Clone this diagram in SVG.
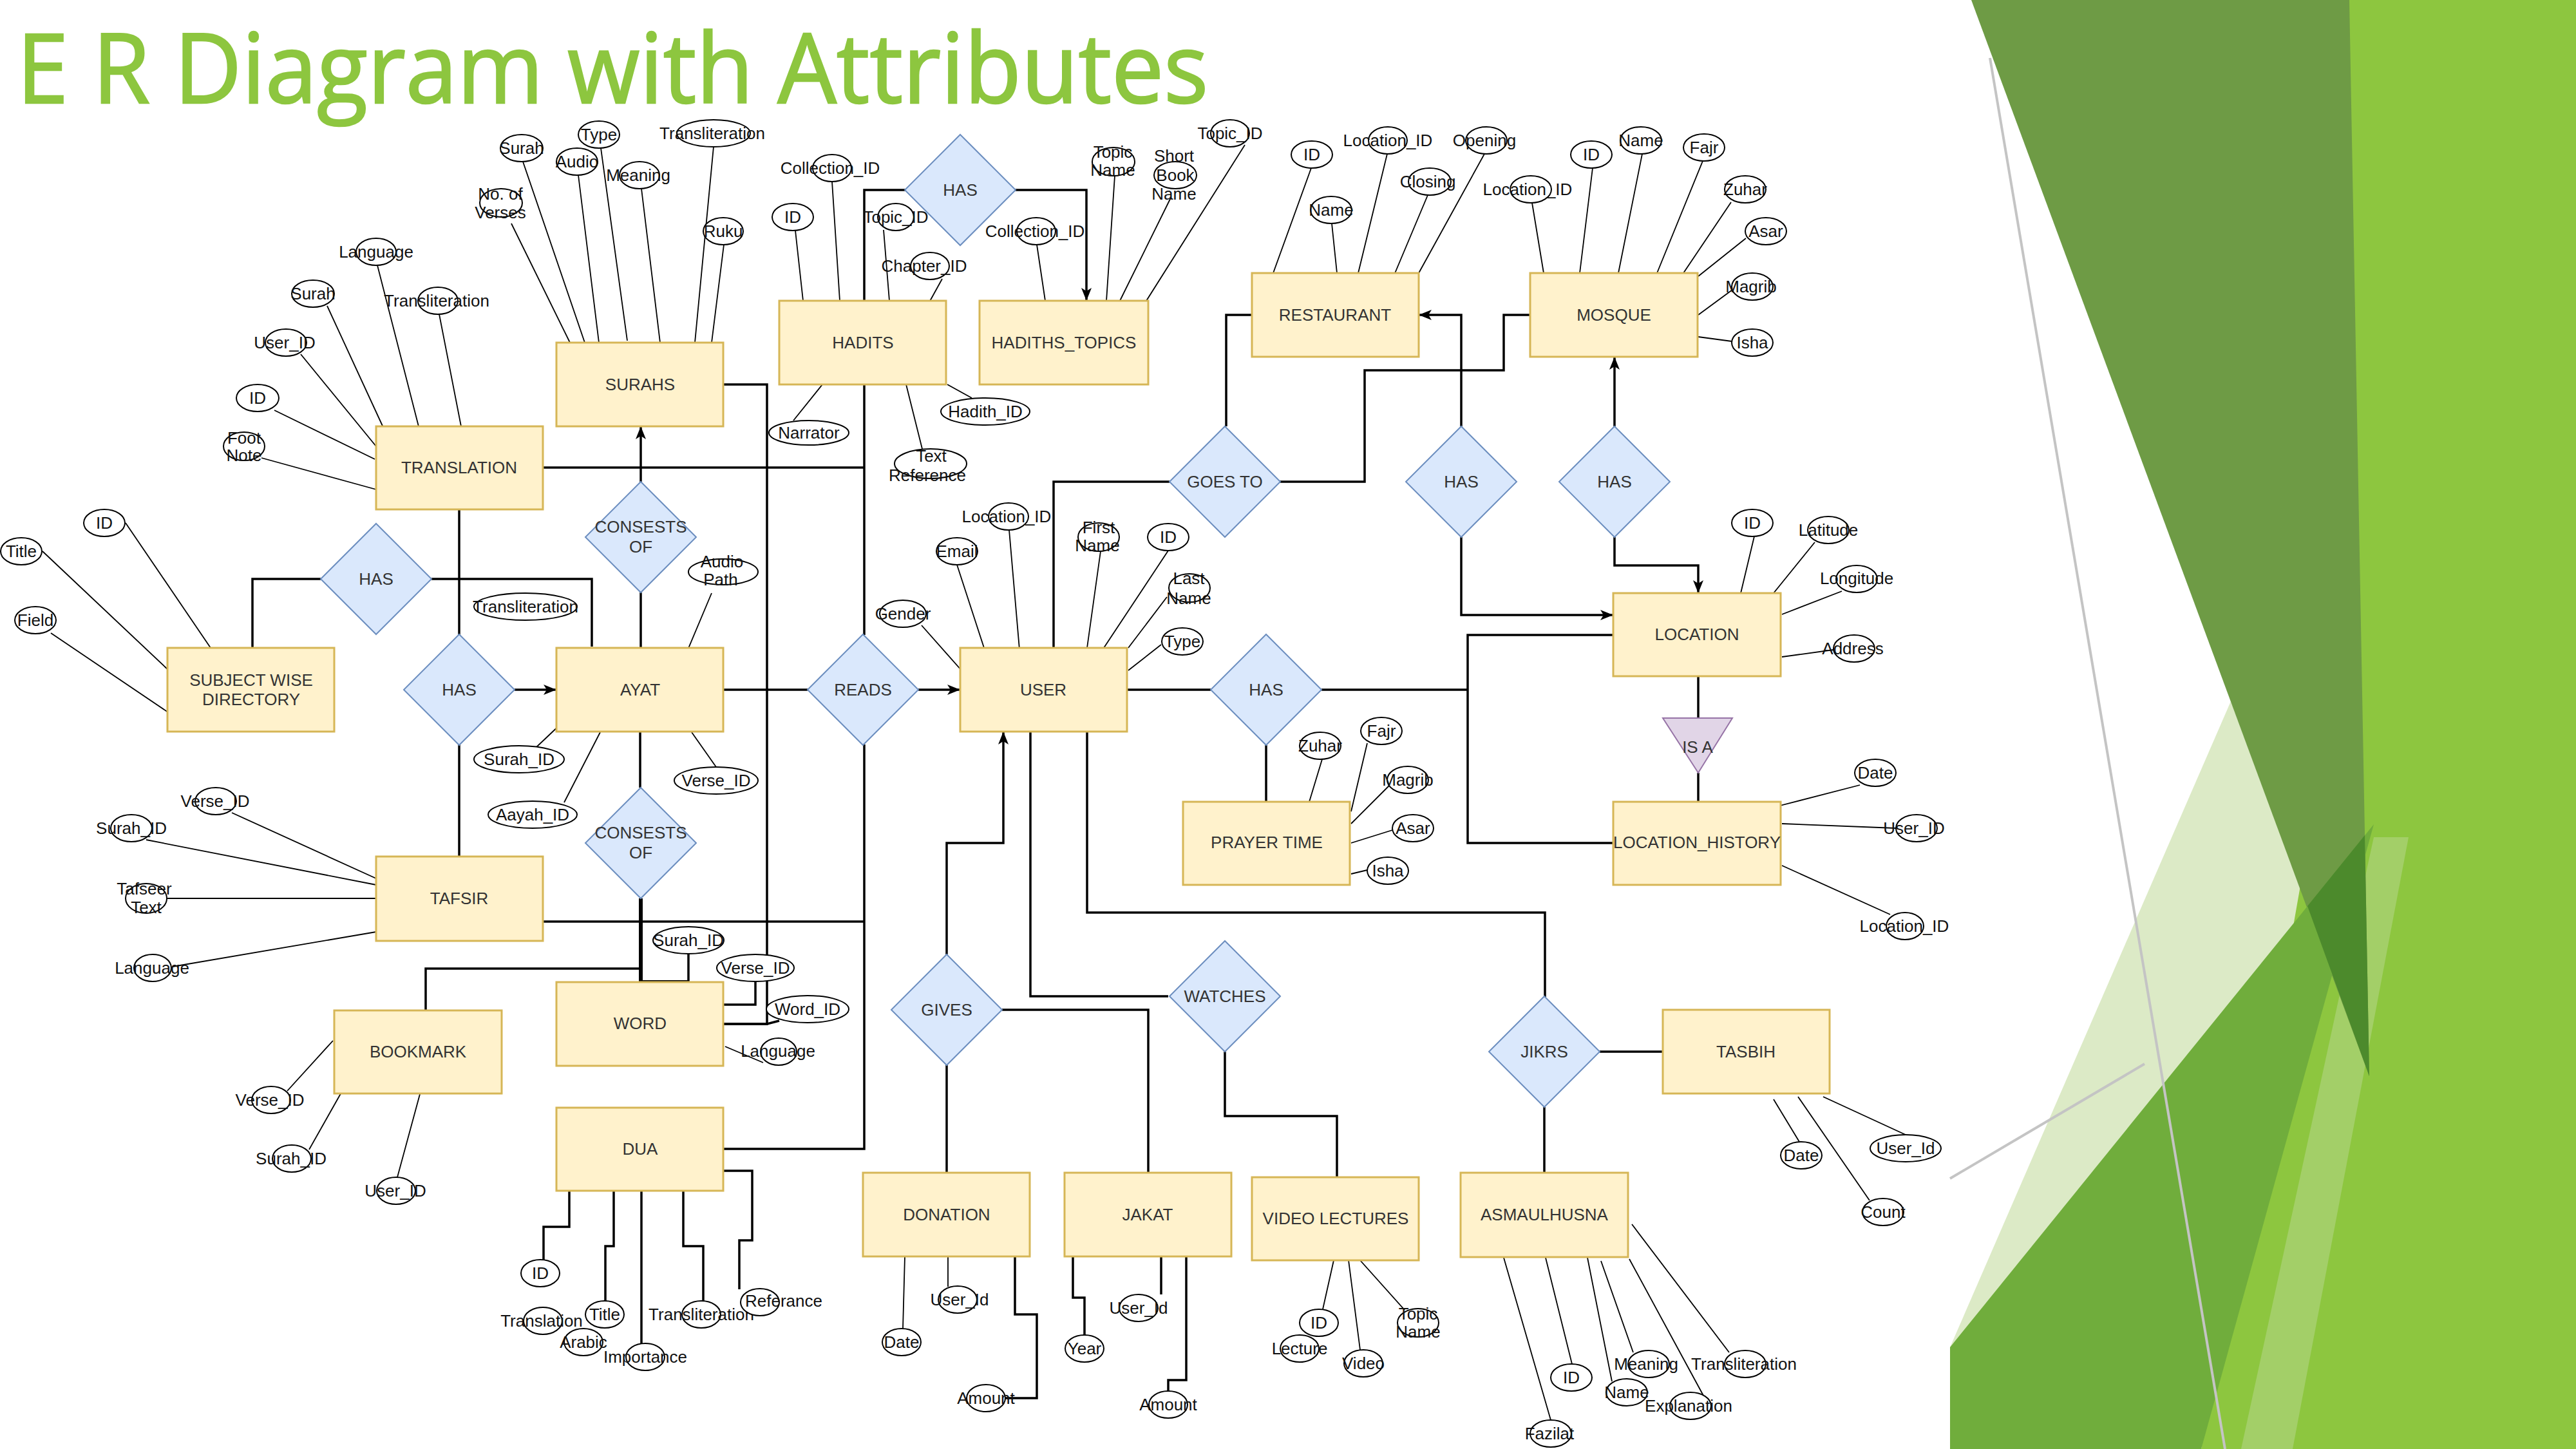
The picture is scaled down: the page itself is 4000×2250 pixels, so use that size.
<svg xmlns="http://www.w3.org/2000/svg" width="4000" height="2250" viewBox="0 0 4000 2250">
<defs>
<style>
.ent{fill:#FFF2CC;stroke:#D6B656;stroke-width:3}
.rel{fill:#DAE8FC;stroke:#6C8EBF;stroke-width:2}
.isa{fill:#E1D5E7;stroke:#9673A6;stroke-width:2}
.att{fill:#FFFFFF;stroke:#000;stroke-width:2}
text{font-family:"Liberation Sans",Arial,sans-serif;font-size:26px;text-anchor:middle;dominant-baseline:central}
.el{fill:#333}
.at{fill:#111}
.c{fill:none;stroke:#000;stroke-width:3.5}
.cb{fill:none;stroke:#000;stroke-width:6}
.ca{fill:none;stroke:#000;stroke-width:3.5;marker-end:url(#arr)}
.l{fill:none;stroke:#000;stroke-width:1.8}
.deco-line{stroke:#C4C4C4;stroke-width:4;fill:none}
</style>
<marker id="arr" markerUnits="userSpaceOnUse" markerWidth="22" markerHeight="18" refX="20" refY="9" orient="auto"><path d="M0,1 L20,9 L0,17 L5,9 Z" fill="#000"/></marker>
<path id="dia" d="M0,-86 L86,0 L0,86 L-86,0 Z"/>
</defs>
<rect width="4000" height="2250" fill="#FFFFFF"/>

<!-- slide decoration on the right edge -->
<g id="decoration">
<polygon points="3028,2092 3464,1089 3686,1684" fill="#DCEAC6"/>
<polygon points="3635,0 4000,0 4000,2250 3418,2250 3580,1330 3640,1100" fill="#8DC63F"/>
<polygon points="3686,1300 3740,1300 3560,2250 3480,2250" fill="#A3CF68"/>
<polygon points="3061,0 3648,0 3679,1671" fill="#6E9B45"/>
<polygon points="3028,2092 3686,1280 3418,2250 3028,2250" fill="#70AD3C"/>
<polygon points="3583,1407 3672,1297 3679,1671" fill="#4C8A2C"/>
<line class="deco-line" x1="3090" y1="90" x2="3455" y2="2250"/>
<line class="deco-line" x1="3028" y1="1830" x2="3330" y2="1652"/>
</g>

<text x="26" y="160" style="font-family:'Open Sans','DejaVu Sans',sans-serif;font-size:150px;text-anchor:start;dominant-baseline:alphabetic;stroke:#8DC63F;stroke-width:2.5" fill="#8DC63F" textLength="1850" lengthAdjust="spacingAndGlyphs">E R Diagram with Attributes</text>

<!-- relationship lines -->
<g id="connectors">
<path class="c" d="M1407,295 H1342 V467"/>
<path class="ca" d="M1576,295 H1687 V467"/>
<path class="c" d="M843,726 H1342"/>
<path class="c" d="M1342,597 V986"/>
<path class="c" d="M1123,597 H1191 V1590 H1123"/>
<path class="ca" d="M995,749 V662"/>
<path class="c" d="M995,920 V1006"/>
<path class="c" d="M713,791 V986"/>
<path class="c" d="M713,1156 V1330"/>
<path class="c" d="M392,1006 V899 H498"/>
<path class="c" d="M670,899 H919 V1004"/>
<path class="ca" d="M799,1071 H864"/>
<path class="c" d="M994,1136 V1223"/>
<path class="cb" d="M995,1395 V1525 H1069"/>
<path class="c" d="M661,1569 V1504 H995"/>
<path class="c" d="M843,1431 H1342"/>
<path class="c" d="M1342,1156 V1784 H1123"/>
<path class="c" d="M1123,1071 H1254"/>
<path class="ca" d="M1426,1071 H1491"/>
<path class="c" d="M1636,1006 V748 H1816"/>
<path class="c" d="M1987,748 H2119 V575 H2335 V489 H2376"/>
<path class="c" d="M1944,489 H1904 V662"/>
<path class="ca" d="M2269,662 V489 H2203"/>
<path class="ca" d="M2269,834 V955 H2505"/>
<path class="ca" d="M2507,662 V554"/>
<path class="ca" d="M2507,834 V878 H2637 V921"/>
<path class="c" d="M1750,1071 H1880"/>
<path class="c" d="M2052,1071 H2279"/>
<path class="c" d="M2505,986 H2279 V1309 H2505"/>
<path class="c" d="M1966,1157 V1245"/>
<path class="c" d="M2637,1050 V1115"/>
<path class="c" d="M2637,1200 V1245"/>
<path class="ca" d="M1470,1482 V1309 H1558 V1136"/>
<path class="c" d="M1600,1136 V1547 H1814"/>
<path class="c" d="M1688,1136 V1417 H2399 V1548"/>
<path class="c" d="M1470,1654 V1821"/>
<path class="c" d="M1556,1568 H1783 V1821"/>
<path class="c" d="M1902,1633 V1733 H2076 V1828"/>
<path class="c" d="M2484,1633 H2582"/>
<path class="c" d="M2398,1719 V1821"/>
<g id="attribute-links">
<path class="l" d="M586,412 L650,662 M508,475 L598,670 M682,488 L716,662 M467,550 L584,693 M426,637 L582,713 M406,711 L584,760"/>
<path class="l" d="M812,251 L908,532 M933,230 L974,529 M898,272 L930,532 M996,293 L1025,532 M1108,228 L1079,532 M1124,380 L1105,532 M794,347 L885,532"/>
<path class="l" d="M1292,282 L1304,467 M1235,358 L1247,467 M1372,357 L1381,467 M1463,433 L1442,471 M1232,653 L1277,597 M1432,697 L1407,597 M1509,618 L1471,597"/>
<path class="l" d="M1610,380 L1623,467 M1731,273 L1718,467 M1818,307 L1739,467 M1933,225 L1775,475"/>
<path class="l" d="M2036,261 L1977,424 M2068,347 L2076,424 M2154,239 L2109,424 M2217,303 L2164,429 M2305,239 L2203,424"/>
<path class="l" d="M2379,315 L2397,424 M2473,261 L2453,424 M2550,239 L2513,424 M2644,250 L2573,424 M2688,314 L2614,424 M2711,370 L2637,429 M2690,450 L2637,489 M2689,530 L2637,523"/>
<path class="l" d="M195,812 L327,1006 M66,856 L261,1040 M79,983 L261,1106"/>
<path class="l" d="M1105,921 L1060,1028 M833,1160 L871,1124 M876,1246 L932,1137 M1112,1191 L1074,1137"/>
<path class="l" d="M1431,971 L1493,1041 M1567,823 L1584,1020 M1486,877 L1528,1006 M1709,856 L1688,1006 M1814,855 L1714,1006 M1812,927 L1752,1006 M1803,1001 L1752,1041"/>
<path class="l" d="M2053,1179 L2033,1245 M2123,1154 L2098,1260 M2158,1219 L2098,1279 M2162,1289 L2098,1309 M2123,1351 L2098,1357"/>
<path class="l" d="M2724,833 L2703,921 M2818,842 L2754,921 M2860,918 L2767,954 M2847,1009 L2767,1020"/>
<path class="l" d="M2888,1219 L2760,1252 M2944,1286 L2767,1279 M2935,1420 L2767,1344"/>
<path class="l" d="M360,1262 L584,1364 M227,1304 L584,1374 M260,1395 L584,1395 M268,1501 L584,1447"/>
<path class="l" d="M446,1694 L517,1616 M480,1785 L541,1677 M617,1828 L652,1699"/>
<path class="c" d="M1069,1481 V1525 M1173,1524 V1560 H1123 M1123,1590 H1191 L1210,1585"/>
<path class="l" d="M1126,1625 L1185,1650"/>
<path class="c" d="M884,1849 V1905 H844 V1956 M953,1849 V1935 H940 V2020 M996,1849 V2086 M1061,1849 V1935 H1092 V2020 M1123,1818 H1168 V1926 H1148 V2002"/>
<path class="l" d="M1405,1951 L1402,2063 M1472,1951 L1472,1998"/>
<path class="c" d="M1576,1951 V2041 H1610 V2171 H1561"/>
<path class="c" d="M1666,1951 V2015 H1684 V2073 M1803,1951 V2010 M1842,1951 V2143 H1814 V2160"/>
<path class="l" d="M2071,1957 L2054,2033 M2094,1957 L2112,2096 M2112,1957 L2181,2034"/>
<path class="l" d="M2794,1773 L2754,1707 M2959,1762 L2831,1703 M2903,1864 L2792,1703"/>
<path class="l" d="M2408,2205 L2335,1953 M2441,2118 L2400,1953 M2503,2145 L2465,1953 M2536,2100 L2486,1958 M2645,2167 L2530,1955 M2685,2100 L2534,1901"/>
</g>
</g>

<!-- entities -->
<g id="translation"><rect class="ent" x="584" y="662" width="259" height="129"/><text class="el" x="713" y="726">TRANSLATION</text></g>
<g id="surahs"><rect class="ent" x="864" y="532" width="259" height="130"/><text class="el" x="994" y="597">SURAHS</text></g>
<g id="hadits"><rect class="ent" x="1210" y="467" width="259" height="130"/><text class="el" x="1340" y="532">HADITS</text></g>
<g id="hadiths-topics"><rect class="ent" x="1521" y="467" width="262" height="130"/><text class="el" x="1652" y="532">HADITHS_TOPICS</text></g>
<g id="restaurant"><rect class="ent" x="1944" y="424" width="259" height="130"/><text class="el" x="2073" y="489">RESTAURANT</text></g>
<g id="mosque"><rect class="ent" x="2376" y="424" width="260" height="130"/><text class="el" x="2506" y="489">MOSQUE</text></g>
<g id="subject-wise-directory"><rect class="ent" x="260" y="1006" width="259" height="130"/><text class="el" x="390" y="1056">SUBJECT WISE</text><text class="el" x="390" y="1086">DIRECTORY</text></g>
<g id="ayat"><rect class="ent" x="864" y="1006" width="259" height="130"/><text class="el" x="994" y="1071">AYAT</text></g>
<g id="user"><rect class="ent" x="1491" y="1006" width="259" height="130"/><text class="el" x="1620" y="1071">USER</text></g>
<g id="location"><rect class="ent" x="2505" y="921" width="260" height="129"/><text class="el" x="2635" y="985">LOCATION</text></g>
<g id="prayer-time"><rect class="ent" x="1837" y="1245" width="259" height="129"/><text class="el" x="1967" y="1308">PRAYER TIME</text></g>
<g id="location-history"><rect class="ent" x="2505" y="1245" width="260" height="129"/><text class="el" x="2635" y="1308">LOCATION_HISTORY</text></g>
<g id="tafsir"><rect class="ent" x="584" y="1330" width="259" height="131"/><text class="el" x="713" y="1395">TAFSIR</text></g>
<g id="bookmark"><rect class="ent" x="519" y="1569" width="260" height="129"/><text class="el" x="649" y="1633">BOOKMARK</text></g>
<g id="word"><rect class="ent" x="864" y="1525" width="259" height="130"/><text class="el" x="994" y="1589">WORD</text></g>
<g id="tasbih"><rect class="ent" x="2582" y="1568" width="259" height="130"/><text class="el" x="2711" y="1633">TASBIH</text></g>
<g id="dua"><rect class="ent" x="864" y="1720" width="259" height="129"/><text class="el" x="994" y="1784">DUA</text></g>
<g id="donation"><rect class="ent" x="1340" y="1821" width="259" height="130"/><text class="el" x="1470" y="1886">DONATION</text></g>
<g id="jakat"><rect class="ent" x="1653" y="1821" width="259" height="130"/><text class="el" x="1782" y="1886">JAKAT</text></g>
<g id="asmaulhusna"><rect class="ent" x="2268" y="1821" width="260" height="131"/><text class="el" x="2398" y="1886">ASMAULHUSNA</text></g>
<g id="video-lectures"><rect class="ent" x="1944" y="1828" width="259" height="129"/><text class="el" x="2074" y="1892">VIDEO LECTURES</text></g>

<!-- relationships -->
<g id="has-topics"><use href="#dia" class="rel" x="1491" y="295"/><text class="el" x="1491" y="295">HAS</text></g>
<g id="consists-surah"><use href="#dia" class="rel" x="995" y="834"/><text class="el" x="995" y="818">CONSESTS</text><text class="el" x="995" y="849">OF</text></g>
<g id="has-subject"><use href="#dia" class="rel" x="584" y="899"/><text class="el" x="584" y="899">HAS</text></g>
<g id="has-ayat"><use href="#dia" class="rel" x="713" y="1071"/><text class="el" x="713" y="1071">HAS</text></g>
<g id="reads"><use href="#dia" class="rel" x="1340" y="1071"/><text class="el" x="1340" y="1071">READS</text></g>
<g id="consists-word"><use href="#dia" class="rel" x="995" y="1309"/><text class="el" x="995" y="1293">CONSESTS</text><text class="el" x="995" y="1324">OF</text></g>
<g id="goes-to"><use href="#dia" class="rel" x="1902" y="748"/><text class="el" x="1902" y="748">GOES TO</text></g>
<g id="has-restaurant"><use href="#dia" class="rel" x="2269" y="748"/><text class="el" x="2269" y="748">HAS</text></g>
<g id="has-mosque"><use href="#dia" class="rel" x="2507" y="748"/><text class="el" x="2507" y="748">HAS</text></g>
<g id="has-prayer"><use href="#dia" class="rel" x="1966" y="1071"/><text class="el" x="1966" y="1071">HAS</text></g>
<g id="gives"><use href="#dia" class="rel" x="1470" y="1568"/><text class="el" x="1470" y="1568">GIVES</text></g>
<g id="watches"><use href="#dia" class="rel" x="1902" y="1547"/><text class="el" x="1902" y="1547">WATCHES</text></g>
<g id="jikrs"><use href="#dia" class="rel" x="2398" y="1633"/><text class="el" x="2398" y="1633">JIKRS</text></g>
<g id="is-a"><polygon class="isa" points="2582,1115 2690,1115 2637,1200"/><text class="el" x="2636" y="1160">IS A</text></g>

<!-- attributes -->
<g id="attributes">
<g id="tr-language"><ellipse class="att" cx="584" cy="391" rx="31" ry="21"/><text class="at" x="584" y="391">Language</text></g>
<g id="tr-surah"><ellipse class="att" cx="486" cy="456" rx="33" ry="21"/><text class="at" x="486" y="456">Surah</text></g>
<g id="tr-transliteration"><ellipse class="att" cx="680" cy="467" rx="31" ry="21"/><text class="at" x="678" y="467">Transliteration</text></g>
<g id="tr-user-id"><ellipse class="att" cx="444" cy="532" rx="32" ry="21"/><text class="at" x="442" y="532">User_ID</text></g>
<g id="tr-id"><ellipse class="att" cx="400" cy="618" rx="33" ry="21"/><text class="at" x="400" y="618">ID</text></g>
<g id="tr-foot-note"><ellipse class="att" cx="379" cy="693" rx="32" ry="22"/><text class="at" x="379" y="680">Foot</text><text class="at" x="379" y="707">Note</text></g>

<g id="su-surah"><ellipse class="att" cx="810" cy="230" rx="33" ry="21"/><text class="at" x="810" y="230">Surah</text></g>
<g id="su-type"><ellipse class="att" cx="930" cy="209" rx="32" ry="21"/><text class="at" x="930" y="209">Type</text></g>
<g id="su-audio"><ellipse class="att" cx="896" cy="251" rx="32" ry="21"/><text class="at" x="896" y="251">Audio</text></g>
<g id="su-meaning"><ellipse class="att" cx="993" cy="272" rx="31" ry="21"/><text class="at" x="991" y="272">Meaning</text></g>
<g id="su-transliteration"><ellipse class="att" cx="1108" cy="207" rx="57" ry="21"/><text class="at" x="1106" y="207">Transliteration</text></g>
<g id="su-ruku"><ellipse class="att" cx="1123" cy="359" rx="31" ry="21"/><text class="at" x="1123" y="359">Ruku</text></g>
<g id="su-verses"><ellipse class="att" cx="778" cy="315" rx="33" ry="22"/><text class="at" x="777" y="301">No. of</text><text class="at" x="777" y="330">Verses</text></g>

<g id="ha-collection"><ellipse class="att" cx="1292" cy="261" rx="30" ry="21"/><text class="at" x="1289" y="261">Collection_ID</text></g>
<g id="ha-id"><ellipse class="att" cx="1231" cy="337" rx="32" ry="21"/><text class="at" x="1231" y="337">ID</text></g>
<g id="ha-topic"><ellipse class="att" cx="1391" cy="337" rx="28" ry="21"/><text class="at" x="1391" y="337">Topic_ID</text></g>
<g id="ha-chapter"><ellipse class="att" cx="1444" cy="413" rx="30" ry="21"/><text class="at" x="1435" y="413">Chapter_ID</text></g>
<g id="ha-narrator"><ellipse class="att" cx="1256" cy="672" rx="62" ry="19"/><text class="at" x="1256" y="672">Narrator</text></g>
<g id="ha-text-ref"><ellipse class="att" cx="1445" cy="720" rx="56" ry="23"/><text class="at" x="1446" y="708">Text</text><text class="at" x="1440" y="738">Reference</text></g>
<g id="ha-hadith-id"><ellipse class="att" cx="1530" cy="639" rx="69" ry="21"/><text class="at" x="1530" y="639">Hadith_ID</text></g>

<g id="ht-collection"><ellipse class="att" cx="1609" cy="359" rx="30" ry="21"/><text class="at" x="1607" y="359">Collection_ID</text></g>
<g id="ht-topic-name"><ellipse class="att" cx="1729" cy="251" rx="33" ry="22"/><text class="at" x="1728" y="236">Topic</text><text class="at" x="1728" y="264">Name</text></g>
<g id="ht-short-name"><ellipse class="att" cx="1825" cy="272" rx="33" ry="21"/><text class="at" x="1823" y="242">Short</text><text class="at" x="1825" y="272">Book</text><text class="at" x="1823" y="301">Name</text></g>
<g id="ht-topic-id"><ellipse class="att" cx="1910" cy="207" rx="30" ry="21"/><text class="at" x="1910" y="207">Topic_ID</text></g>

<g id="re-id"><ellipse class="att" cx="2037" cy="240" rx="32" ry="21"/><text class="at" x="2037" y="240">ID</text></g>
<g id="re-name"><ellipse class="att" cx="2067" cy="326" rx="32" ry="21"/><text class="at" x="2067" y="326">Name</text></g>
<g id="re-location"><ellipse class="att" cx="2155" cy="218" rx="30" ry="21"/><text class="at" x="2155" y="218">Location_ID</text></g>
<g id="re-closing"><ellipse class="att" cx="2220" cy="282" rx="33" ry="21"/><text class="at" x="2217" y="282">Closing</text></g>
<g id="re-opening"><ellipse class="att" cx="2308" cy="218" rx="32" ry="21"/><text class="at" x="2305" y="218">Opening</text></g>

<g id="mo-location"><ellipse class="att" cx="2377" cy="294" rx="32" ry="21"/><text class="at" x="2372" y="294">Location_ID</text></g>
<g id="mo-id"><ellipse class="att" cx="2471" cy="240" rx="32" ry="21"/><text class="at" x="2471" y="240">ID</text></g>
<g id="mo-name"><ellipse class="att" cx="2548" cy="218" rx="32" ry="21"/><text class="at" x="2548" y="218">Name</text></g>
<g id="mo-fajr"><ellipse class="att" cx="2646" cy="229" rx="32" ry="21"/><text class="at" x="2646" y="229">Fajr</text></g>
<g id="mo-zuhar"><ellipse class="att" cx="2710" cy="294" rx="32" ry="21"/><text class="at" x="2710" y="294">Zuhar</text></g>
<g id="mo-asar"><ellipse class="att" cx="2742" cy="359" rx="32" ry="21"/><text class="at" x="2742" y="359">Asar</text></g>
<g id="mo-magrib"><ellipse class="att" cx="2721" cy="445" rx="32" ry="21"/><text class="at" x="2719" y="445">Magrib</text></g>
<g id="mo-isha"><ellipse class="att" cx="2721" cy="532" rx="32" ry="21"/><text class="at" x="2721" y="532">Isha</text></g>

<g id="sd-id"><ellipse class="att" cx="162" cy="812" rx="32" ry="21"/><text class="at" x="162" y="812">ID</text></g>
<g id="sd-title"><ellipse class="att" cx="33" cy="856" rx="32" ry="21"/><text class="at" x="33" y="856">Title</text></g>
<g id="sd-field"><ellipse class="att" cx="55" cy="963" rx="32" ry="21"/><text class="at" x="55" y="963">Field</text></g>

<g id="ay-transliteration"><ellipse class="att" cx="816" cy="942" rx="80" ry="21"/><text class="at" x="816" y="942">Transliteration</text></g>
<g id="ay-audio-path"><ellipse class="att" cx="1123" cy="888" rx="54" ry="20"/><text class="at" x="1121" y="872">Audio</text><text class="at" x="1119" y="900">Path</text></g>
<g id="ay-surah-id"><ellipse class="att" cx="806" cy="1179" rx="70" ry="21"/><text class="at" x="806" y="1179">Surah_ID</text></g>
<g id="ay-aayah-id"><ellipse class="att" cx="827" cy="1265" rx="69" ry="21"/><text class="at" x="827" y="1265">Aayah_ID</text></g>
<g id="ay-verse-id"><ellipse class="att" cx="1112" cy="1212" rx="65" ry="21"/><text class="at" x="1112" y="1212">Verse_ID</text></g>

<g id="us-gender"><ellipse class="att" cx="1402" cy="953" rx="36" ry="21"/><text class="at" x="1402" y="953">Gender</text></g>
<g id="us-location"><ellipse class="att" cx="1566" cy="802" rx="31" ry="21"/><text class="at" x="1563" y="802">Location_ID</text></g>
<g id="us-email"><ellipse class="att" cx="1486" cy="856" rx="32" ry="21"/><text class="at" x="1486" y="856">Email</text></g>
<g id="us-first-name"><ellipse class="att" cx="1706" cy="834" rx="32" ry="22"/><text class="at" x="1706" y="819">First</text><text class="at" x="1704" y="847">Name</text></g>
<g id="us-id"><ellipse class="att" cx="1814" cy="834" rx="32" ry="21"/><text class="at" x="1814" y="834">ID</text></g>
<g id="us-last-name"><ellipse class="att" cx="1847" cy="913" rx="32" ry="22"/><text class="at" x="1846" y="898">Last</text><text class="at" x="1846" y="929">Name</text></g>
<g id="us-type"><ellipse class="att" cx="1836" cy="996" rx="32" ry="21"/><text class="at" x="1836" y="996">Type</text></g>

<g id="pt-zuhar"><ellipse class="att" cx="2050" cy="1158" rx="32" ry="21"/><text class="at" x="2050" y="1158">Zuhar</text></g>
<g id="pt-fajr"><ellipse class="att" cx="2145" cy="1135" rx="32" ry="21"/><text class="at" x="2145" y="1135">Fajr</text></g>
<g id="pt-magrib"><ellipse class="att" cx="2186" cy="1211" rx="32" ry="21"/><text class="at" x="2186" y="1211">Magrib</text></g>
<g id="pt-asar"><ellipse class="att" cx="2194" cy="1286" rx="32" ry="21"/><text class="at" x="2194" y="1286">Asar</text></g>
<g id="pt-isha"><ellipse class="att" cx="2155" cy="1352" rx="32" ry="21"/><text class="at" x="2155" y="1352">Isha</text></g>

<g id="lo-id"><ellipse class="att" cx="2721" cy="812" rx="32" ry="21"/><text class="at" x="2721" y="812">ID</text></g>
<g id="lo-latitude"><ellipse class="att" cx="2839" cy="823" rx="32" ry="21"/><text class="at" x="2839" y="823">Latitude</text></g>
<g id="lo-longitude"><ellipse class="att" cx="2883" cy="899" rx="32" ry="21"/><text class="at" x="2883" y="898">Longitude</text></g>
<g id="lo-address"><ellipse class="att" cx="2879" cy="1007" rx="32" ry="21"/><text class="at" x="2877" y="1007">Address</text></g>

<g id="lh-date"><ellipse class="att" cx="2912" cy="1200" rx="32" ry="21"/><text class="at" x="2912" y="1200">Date</text></g>
<g id="lh-user-id"><ellipse class="att" cx="2976" cy="1286" rx="32" ry="21"/><text class="at" x="2972" y="1286">User_ID</text></g>
<g id="lh-location-id"><ellipse class="att" cx="2958" cy="1438" rx="29" ry="21"/><text class="at" x="2957" y="1438">Location_ID</text></g>

<g id="ta-verse-id"><ellipse class="att" cx="335" cy="1244" rx="32" ry="21"/><text class="at" x="334" y="1244">Verse_ID</text></g>
<g id="ta-surah-id"><ellipse class="att" cx="204" cy="1286" rx="32" ry="21"/><text class="at" x="204" y="1286">Surah_ID</text></g>
<g id="ta-text"><ellipse class="att" cx="227" cy="1395" rx="32" ry="23"/><text class="at" x="224" y="1380">Tafseer</text><text class="at" x="227" y="1409">Text</text></g>
<g id="ta-language"><ellipse class="att" cx="237" cy="1503" rx="29" ry="21"/><text class="at" x="236" y="1503">Language</text></g>

<g id="bm-verse-id"><ellipse class="att" cx="421" cy="1708" rx="30" ry="21"/><text class="at" x="419" y="1708">Verse_ID</text></g>
<g id="bm-surah-id"><ellipse class="att" cx="453" cy="1799" rx="30" ry="21"/><text class="at" x="452" y="1799">Surah_ID</text></g>
<g id="bm-user-id"><ellipse class="att" cx="615" cy="1849" rx="30" ry="21"/><text class="at" x="614" y="1849">User_ID</text></g>

<g id="wo-surah-id"><ellipse class="att" cx="1069" cy="1460" rx="55" ry="21"/><text class="at" x="1069" y="1460">Surah_ID</text></g>
<g id="wo-verse-id"><ellipse class="att" cx="1173" cy="1503" rx="60" ry="21"/><text class="at" x="1173" y="1503">Verse_ID</text></g>
<g id="wo-word-id"><ellipse class="att" cx="1254" cy="1567" rx="64" ry="21"/><text class="at" x="1254" y="1567">Word_ID</text></g>
<g id="wo-language"><ellipse class="att" cx="1209" cy="1633" rx="28" ry="21"/><text class="at" x="1208" y="1632">Language</text></g>

<g id="du-id"><ellipse class="att" cx="839" cy="1977" rx="30" ry="21"/><text class="at" x="839" y="1977">ID</text></g>
<g id="du-translation"><ellipse class="att" cx="843" cy="2051" rx="30" ry="21"/><text class="at" x="841" y="2051">Translation</text></g>
<g id="du-title"><ellipse class="att" cx="939" cy="2041" rx="30" ry="21"/><text class="at" x="939" y="2041">Title</text></g>
<g id="du-arabic"><ellipse class="att" cx="906" cy="2084" rx="30" ry="21"/><text class="at" x="906" y="2084">Arabic</text></g>
<g id="du-importance"><ellipse class="att" cx="1002" cy="2107" rx="30" ry="21"/><text class="at" x="1002" y="2107">Importance</text></g>
<g id="du-transliteration"><ellipse class="att" cx="1089" cy="2041" rx="30" ry="21"/><text class="at" x="1089" y="2041">Transliteration</text></g>
<g id="du-referance"><ellipse class="att" cx="1180" cy="2022" rx="30" ry="21"/><text class="at" x="1217" y="2020">Referance</text></g>

<g id="do-date"><ellipse class="att" cx="1400" cy="2084" rx="30" ry="21"/><text class="at" x="1400" y="2084">Date</text></g>
<g id="do-user-id"><ellipse class="att" cx="1487" cy="2018" rx="30" ry="21"/><text class="at" x="1490" y="2018">User_Id</text></g>
<g id="do-amount"><ellipse class="att" cx="1531" cy="2171" rx="30" ry="21"/><text class="at" x="1531" y="2171">Amount</text></g>

<g id="ja-year"><ellipse class="att" cx="1684" cy="2094" rx="30" ry="21"/><text class="at" x="1684" y="2094">Year</text></g>
<g id="ja-user-id"><ellipse class="att" cx="1768" cy="2031" rx="30" ry="21"/><text class="at" x="1768" y="2031">User_Id</text></g>
<g id="ja-amount"><ellipse class="att" cx="1814" cy="2181" rx="30" ry="21"/><text class="at" x="1814" y="2181">Amount</text></g>

<g id="vl-id"><ellipse class="att" cx="2048" cy="2054" rx="30" ry="21"/><text class="at" x="2048" y="2054">ID</text></g>
<g id="vl-lecture"><ellipse class="att" cx="2018" cy="2094" rx="30" ry="21"/><text class="at" x="2018" y="2094">Lecture</text></g>
<g id="vl-video"><ellipse class="att" cx="2117" cy="2117" rx="30" ry="21"/><text class="at" x="2117" y="2117">Video</text></g>
<g id="vl-topic-name"><ellipse class="att" cx="2202" cy="2054" rx="32" ry="22"/><text class="at" x="2202" y="2040">Topic</text><text class="at" x="2202" y="2068">Name</text></g>

<g id="tb-date"><ellipse class="att" cx="2797" cy="1794" rx="32" ry="21"/><text class="at" x="2797" y="1794">Date</text></g>
<g id="tb-user-id"><ellipse class="att" cx="2959" cy="1783" rx="55" ry="21"/><text class="at" x="2959" y="1783">User_Id</text></g>
<g id="tb-count"><ellipse class="att" cx="2924" cy="1882" rx="32" ry="21"/><text class="at" x="2924" y="1882">Count</text></g>

<g id="as-fazilat"><ellipse class="att" cx="2408" cy="2226" rx="32" ry="21"/><text class="at" x="2406" y="2226">Fazilat</text></g>
<g id="as-id"><ellipse class="att" cx="2440" cy="2139" rx="32" ry="21"/><text class="at" x="2440" y="2139">ID</text></g>
<g id="as-name"><ellipse class="att" cx="2526" cy="2162" rx="32" ry="21"/><text class="at" x="2526" y="2162">Name</text></g>
<g id="as-meaning"><ellipse class="att" cx="2560" cy="2118" rx="32" ry="21"/><text class="at" x="2556" y="2118">Meaning</text></g>
<g id="as-explanation"><ellipse class="att" cx="2625" cy="2183" rx="32" ry="21"/><text class="at" x="2622" y="2183">Explanation</text></g>
<g id="as-transliteration"><ellipse class="att" cx="2710" cy="2118" rx="32" ry="21"/><text class="at" x="2708" y="2118">Transliteration</text></g>
</g>
</svg>
